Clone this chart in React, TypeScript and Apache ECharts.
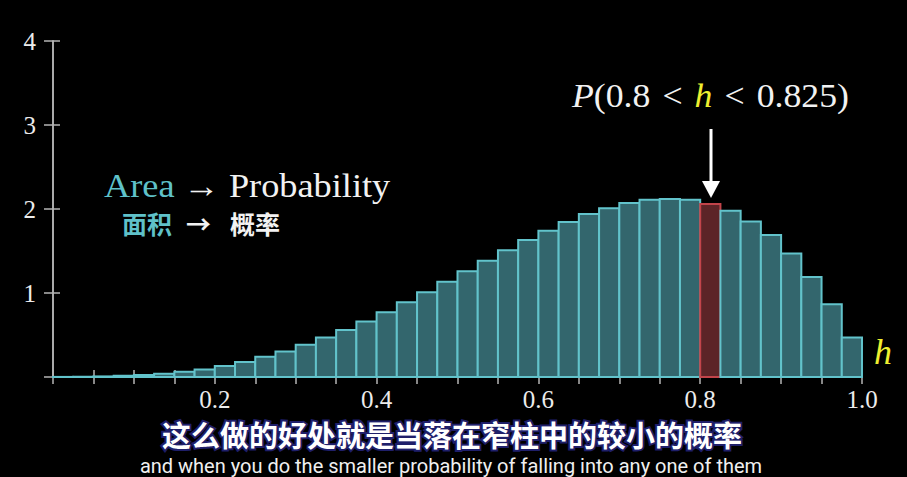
import React, { useEffect, useRef } from "react";
import * as echarts from "echarts";

// Histogram bin heights (density), 40 bins of width 0.025 over [0, 1]
const binWidth = 0.025;
const densities = [
  0.001, 0.003, 0.007, 0.015, 0.025, 0.04, 0.063, 0.09, 0.13, 0.18,
  0.24, 0.305, 0.385, 0.47, 0.56, 0.66, 0.77, 0.89, 1.01, 1.135,
  1.26, 1.385, 1.51, 1.63, 1.74, 1.845, 1.94, 2.01, 2.07, 2.11,
  2.12, 2.11, 2.06, 1.98, 1.85, 1.69, 1.47, 1.19, 0.865, 0.47,
];
const highlightedBin = 32; // 0.8 < h < 0.825
const xTickLabels = ["0.2", "0.4", "0.6", "0.8", "1.0"];
const yTickLabels = ["1", "2", "3", "4"];

const serif = "Liberation Serif";
const cjk = "Noto Sans CJK SC";
const axisColor = "#b4b4b4";
const teal = "#5fc1c9";
const yellow = "#eeee30";

export default function App() {
  const ref = useRef<HTMLDivElement>(null);
  useEffect(() => {
    if (!ref.current) return;
    const chart = echarts.init(ref.current, null, { renderer: "svg" });
    const data = densities.map((d, i) => [
      i * binWidth,
      (i + 1) * binWidth,
      d,
      i === highlightedBin ? 1 : 0,
    ]);
    const xLabelFmt = (v: number) => {
      const s = v.toFixed(1);
      return Math.abs(v * 5 - Math.round(v * 5)) < 1e-6 && xTickLabels.includes(s) ? s : "";
    };
    const yLabelFmt = (v: number) => (yTickLabels.includes(String(v)) ? String(v) : "");
    chart.setOption({
      animation: false,
      backgroundColor: "#000",
      grid: { left: 53, right: 45, top: 41, bottom: 100, outerBoundsMode: "none" },
      xAxis: [
        {
          type: "value", min: 0, max: 1, interval: 0.05,
          axisLine: { show: true, lineStyle: { color: axisColor, width: 1.5 } },
          axisTick: { show: true, length: 7, lineStyle: { color: axisColor, width: 1.5 } },
          splitLine: { show: false },
          axisLabel: {
            formatter: xLabelFmt, margin: 13, color: "#ececec",
            fontFamily: serif, fontSize: 25, lineHeight: 18,
            showMinLabel: true, showMaxLabel: true,
          },
        },
        {
          type: "value", min: 0, max: 1, interval: 0.05, position: "bottom",
          axisLine: { show: true, lineStyle: { color: axisColor, width: 1.5 } },
          axisTick: { show: true, inside: true, length: 7, lineStyle: { color: axisColor, width: 1.5 } },
          splitLine: { show: false },
          axisLabel: { show: false },
        },
      ],
      yAxis: [
        {
          type: "value", min: 0, max: 4, interval: 1,
          axisLine: { show: true, lineStyle: { color: axisColor, width: 1.5 } },
          axisTick: { show: true, length: 9, lineStyle: { color: axisColor, width: 1.5 } },
          splitLine: { show: false },
          axisLabel: {
            formatter: yLabelFmt, margin: 17, color: "#ececec",
            fontFamily: serif, fontSize: 25,
          },
        },
        {
          type: "value", min: 0, max: 4, interval: 1, position: "left",
          axisLine: { show: true, lineStyle: { color: axisColor, width: 1.5 } },
          axisTick: { show: true, inside: true, length: 7, lineStyle: { color: axisColor, width: 1.5 } },
          splitLine: { show: false },
          axisLabel: { show: false },
        },
      ],
      series: [
        {
          type: "custom",
          xAxisIndex: 0,
          yAxisIndex: 0,
          z: 5,
          data,
          renderItem: (params: any, api: any) => {
            const x0 = api.value(0);
            const x1 = api.value(1);
            const y = api.value(2);
            const hi = api.value(3) === 1;
            const p0 = api.coord([x0, y]);
            const p1 = api.coord([x1, 0]);
            return {
              type: "rect",
              shape: { x: p0[0], y: p0[1], width: p1[0] - p0[0], height: p1[1] - p0[1] },
              style: {
                fill: hi ? "#5c2427" : "#33666d",
                stroke: hi ? "#c2444a" : "#62c3cb",
                lineWidth: 2,
              },
            };
          },
        },
      ],
      graphic: [
        {
          type: "text",
          x: 572, y: 96, scaleX: 1.05,
          style: {
            text: "{i|P}{n|(0.8 }{o|<}{n| }{h|h}{n| }{o|<}{n| 0.825)}",
            font: "34px Liberation Serif", fill: "#f2f2f2",
            align: "left", verticalAlign: "middle",
            rich: {
              i: { fontFamily: serif, fontStyle: "italic", fontSize: 34, fill: "#f2f2f2" },
              n: { fontFamily: serif, fontSize: 34, fill: "#f2f2f2" },
              o: { fontFamily: serif, fontSize: 34, fill: "#f2f2f2", padding: [0, 3] },
              h: { fontFamily: serif, fontStyle: "italic", fontSize: 34, fill: yellow },
            },
          },
        },
        {
          type: "line",
          shape: { x1: 711, y1: 129, x2: 711, y2: 185 },
          style: { stroke: "#ffffff", lineWidth: 3 },
        },
        {
          type: "polygon",
          shape: { points: [[702, 181], [720, 181], [711, 198]] },
          style: { fill: "#ffffff" },
        },
        {
          type: "text",
          x: 104, y: 186, scaleX: 1.1,
          style: {
            text: "{a|Area}{n| → Probability}",
            font: "33px Liberation Serif", fill: "#f2f2f2",
            align: "left", verticalAlign: "middle",
            rich: {
              a: { fontFamily: serif, fontSize: 33, fill: teal },
              n: { fontFamily: serif, fontSize: 33, fill: "#f2f2f2" },
            },
          },
        },
        {
          type: "text",
          x: 122, y: 223,
          style: {
            text: "面积", fontFamily: cjk, fontSize: 25, fontWeight: "bold", fill: teal,
            align: "left", verticalAlign: "middle",
          },
        },
        {
          type: "text",
          x: 186, y: 223,
          style: {
            text: "→", fontFamily: cjk, fontSize: 25, fontWeight: "bold", fill: "#f2f2f2",
            align: "left", verticalAlign: "middle",
          },
        },
        {
          type: "text",
          x: 230, y: 223,
          style: {
            text: "概率", fontFamily: cjk, fontSize: 25, fontWeight: "bold", fill: "#f2f2f2",
            align: "left", verticalAlign: "middle",
          },
        },
        {
          type: "text",
          x: 883, y: 352,
          style: {
            text: "h",
            fontFamily: serif, fontStyle: "italic", fontSize: 36, fill: yellow,
            align: "center", verticalAlign: "middle",
          },
        },
        {
          type: "text",
          x: 452, y: 434,
          style: {
            text: "这么做的好处就是当落在窄柱中的较小的概率",
            fontFamily: cjk, fontSize: 29, fontWeight: "bold", lineHeight: 24,
            fill: "#ffffff", stroke: "#1f1f6a", lineWidth: 4,
            align: "center", verticalAlign: "middle",
          },
        },
        {
          type: "text",
          x: 451, y: 466,
          style: {
            text: "and when you do the smaller probability of falling into any one of them",
            fontFamily: "Roboto", fontSize: 20, lineHeight: 18, fill: "#f0f0f0",
            align: "center", verticalAlign: "middle",
          },
        },
      ],
    });
    return () => chart.dispose();
  }, []);
  return (
    <div
      ref={ref}
      style={{ position: "fixed", left: 0, top: 0, width: 907, height: 477, background: "#000" }}
    />
  );
}
